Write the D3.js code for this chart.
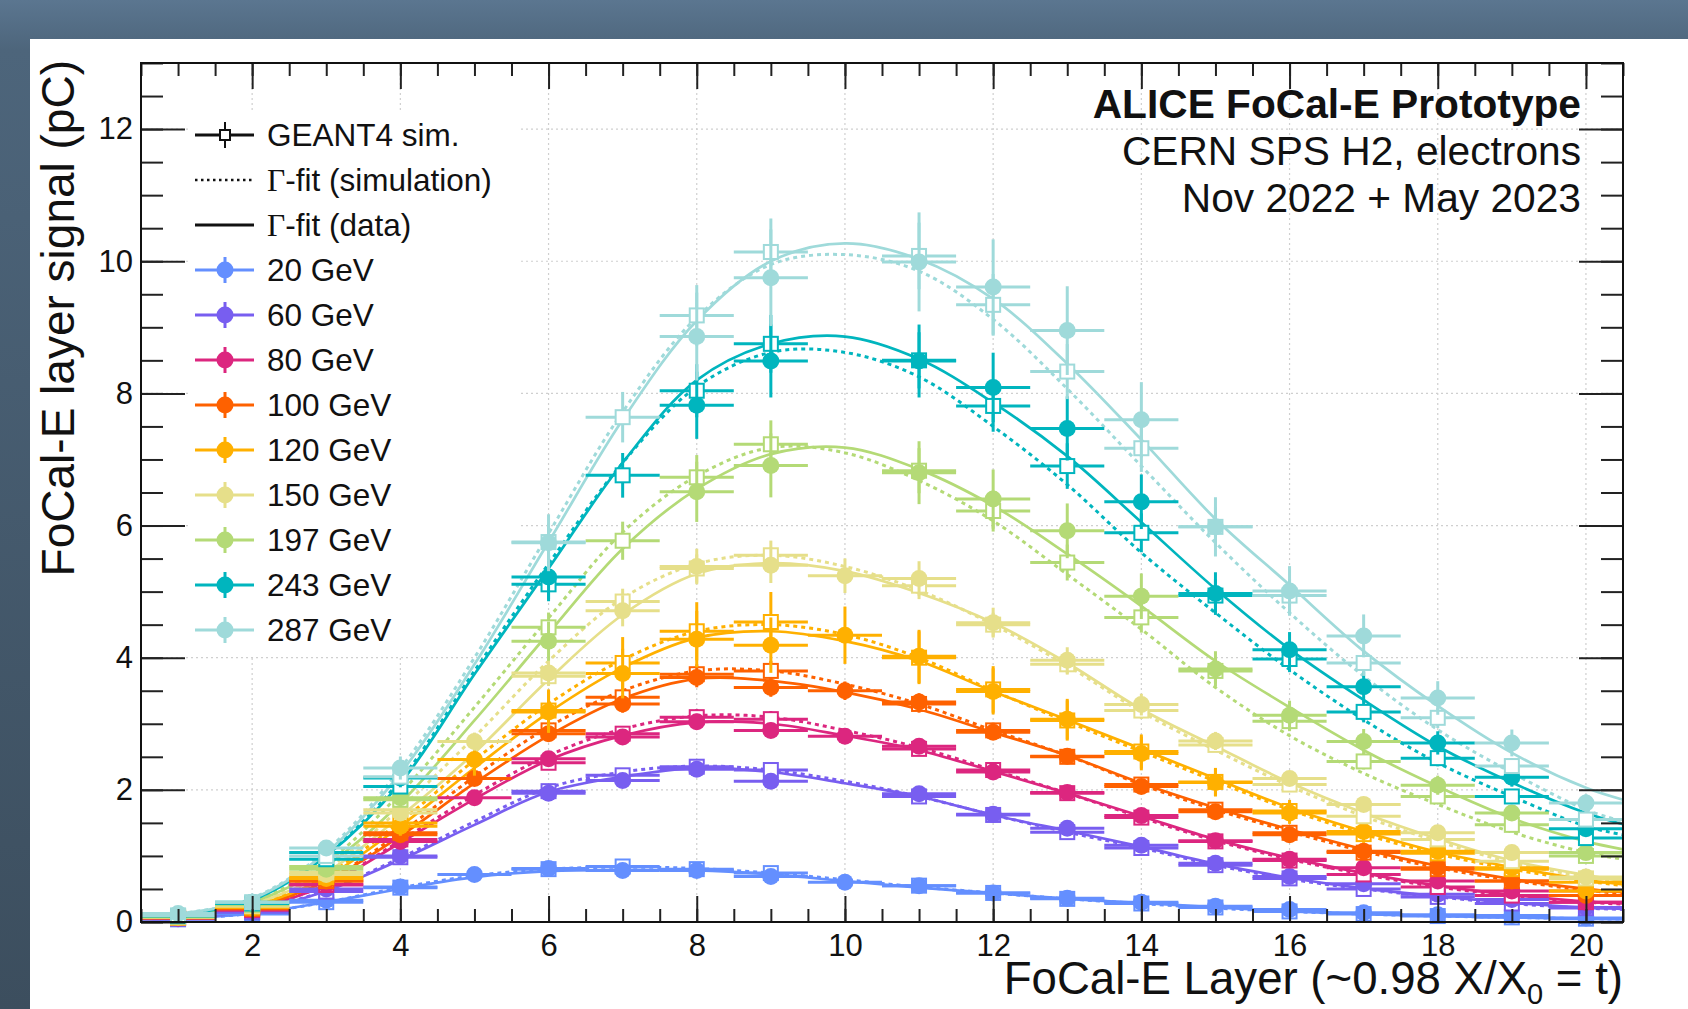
<!DOCTYPE html>
<html>
<head>
<meta charset="utf-8">
<script src="https://cdn.jsdelivr.net/npm/d3@7"></script>
<style>
	body { margin: 0; overflow: hidden; background: #4c6479; }
	svg { display: block; font-family: "Liberation Sans", Arial, sans-serif; }
</style>
</head>
<body>
<div id="chart"></div>
<script>
// values (pC per layer)
const layers = [1, 2, 3, 4, 5, 6, 7, 8, 9, 10, 11, 12, 13, 14, 15, 16, 17, 18, 19, 20];
const fitLayers = [0.5, 1, 2, 3, 4, 5, 6, 7, 8, 9, 10, 11, 12, 13, 14, 15, 16, 17, 18, 19, 20, 20.5];
const energies = ["20 GeV", "60 GeV", "80 GeV", "100 GeV", "120 GeV", "150 GeV", "197 GeV", "243 GeV", "287 GeV"];
const colors = ["#648fff", "#785ef0", "#dc267f", "#fe6100", "#ffb000", "#e6df8a", "#b4da76", "#00b5be", "#9fdada"];
const xTicks = [2, 4, 6, 8, 10, 12, 14, 16, 18, 20];
const yTicks = [0, 2, 4, 6, 8, 10, 12];

// measured points (null = layer not shown)
const data20 = [0.06, 0.14, 0.33, 0.53, 0.72, 0.81, 0.78, 0.78, 0.69, 0.60, 0.55, 0.44, 0.36, 0.30, 0.24, 0.19, 0.14, 0.11, 0.10, 0.06];
const data60 = [0.05, 0.15, 0.50, 1.00, null, 1.95, 2.14, 2.31, 2.13, null, 1.94, 1.63, 1.42, 1.16, 0.89, 0.69, 0.58, 0.42, 0.34, 0.22];
const data80 = [0.06, 0.18, 0.57, 1.22, 1.88, 2.47, 2.80, 3.03, 2.90, 2.81, 2.66, 2.27, 1.96, 1.61, 1.23, 0.95, 0.82, 0.62, 0.47, 0.30];
const data100 = [0.07, 0.20, 0.62, 1.32, 2.17, 2.85, 3.30, 3.70, 3.55, 3.50, 3.33, 2.87, 2.51, 2.05, 1.67, 1.32, 1.07, 0.82, 0.62, 0.40];
const data120 = [0.07, 0.22, 0.66, 1.45, 2.46, 3.18, 3.76, 4.28, 4.19, 4.34, 4.02, 3.49, 3.07, 2.55, 2.11, 1.65, 1.37, 1.07, 0.82, 0.47];
const data150 = [0.08, 0.25, 0.72, 1.65, 2.73, 3.77, 4.71, 5.38, 5.40, 5.24, 5.20, 4.53, 3.96, 3.29, 2.74, 2.17, 1.78, 1.35, 1.05, 0.68];
const data197 = [0.09, 0.27, 0.80, 1.88, null, 4.25, null, 6.51, 6.91, null, 6.80, 6.40, 5.92, 4.93, 3.83, 3.13, 2.73, 2.07, 1.65, 1.05];
const data243 = [0.10, 0.30, 1.05, 2.18, null, 5.22, null, 7.82, 8.49, null, 8.49, 8.09, 7.47, 6.36, 4.97, 4.12, 3.56, 2.71, 2.19, 1.41];
const data287 = [0.13, 0.30, 1.12, 2.33, null, 5.74, null, 8.86, 9.75, null, 9.99, 9.61, 8.95, 7.60, 5.98, 5.01, 4.33, 3.39, 2.71, 1.80];

// GEANT4 points
const sim20 = [0.04, 0.12, 0.30, 0.52, null, 0.80, 0.84, 0.80, 0.74, null, 0.55, 0.44, 0.35, 0.28, 0.22, 0.16, 0.12, 0.09, 0.07, 0.05];
const sim60 = [0.05, 0.15, 0.46, 0.98, null, 1.98, 2.22, 2.35, 2.30, null, 1.90, 1.62, 1.36, 1.12, 0.86, 0.66, 0.50, 0.38, 0.28, 0.21];
const sim80 = [0.06, 0.18, 0.56, 1.25, null, 2.41, 2.85, 3.10, 3.07, null, 2.62, 2.30, 1.95, 1.58, 1.22, 0.93, 0.72, 0.53, 0.40, 0.30];
const sim100 = [0.06, 0.20, 0.62, 1.35, null, 2.90, 3.40, 3.75, 3.80, null, 3.30, 2.90, 2.50, 2.08, 1.70, 1.35, 1.05, 0.80, 0.62, 0.47];
const sim120 = [0.07, 0.22, 0.68, 1.50, null, 3.20, 3.92, 4.40, 4.54, null, 4.00, 3.52, 3.05, 2.58, 2.12, 1.68, 1.33, 1.04, 0.80, 0.60];
const sim150 = [0.07, 0.24, 0.75, 1.70, null, 3.72, 4.85, 5.35, 5.55, null, 5.09, 4.50, 3.90, 3.20, 2.68, 2.08, 1.60, 1.25, 0.92, 0.66];
const sim197 = [0.08, 0.26, 0.84, 1.85, null, 4.46, 5.77, 6.73, 7.23, null, 6.83, 6.22, 5.44, 4.61, 3.80, 3.04, 2.43, 1.90, 1.47, 1.00];
const sim243 = [0.09, 0.28, 0.95, 2.05, null, 5.11, 6.76, 8.04, 8.75, null, 8.50, 7.81, 6.90, 5.89, 4.94, 3.98, 3.18, 2.48, 1.90, 1.27];
const sim287 = [0.10, 0.30, 1.00, 2.20, null, 5.75, 7.64, 9.18, 10.14, null, 10.08, 9.34, 8.33, 7.17, 5.98, 4.94, 3.92, 3.09, 2.36, 1.55];

// relative y uncertainties per energy
const relErrData = [0.04, 0.04, 0.04, 0.04, 0.10, 0.05, 0.07, 0.065, 0.075];
const relErrSim = [0.04, 0.04, 0.04, 0.04, 0.10, 0.04, 0.05, 0.05, 0.05];

// Gamma-fit curves, sampled at fitLayers
const fit20 = [0.03, 0.05, 0.13, 0.30, 0.50, 0.68, 0.77, 0.79, 0.78, 0.72, 0.62, 0.52, 0.44, 0.35, 0.29, 0.22, 0.16, 0.12, 0.09, 0.07, 0.05, 0.045];
const fit60 = [0.03, 0.06, 0.17, 0.47, 0.94, 1.47, 1.97, 2.20, 2.33, 2.27, 2.10, 1.90, 1.62, 1.38, 1.14, 0.88, 0.67, 0.51, 0.39, 0.29, 0.22, 0.20];
const fit80 = [0.03, 0.07, 0.20, 0.56, 1.20, 1.86, 2.45, 2.82, 3.02, 3.00, 2.82, 2.60, 2.28, 1.95, 1.60, 1.25, 0.97, 0.74, 0.55, 0.41, 0.31, 0.28];
const fit100 = [0.04, 0.08, 0.22, 0.62, 1.30, 2.10, 2.82, 3.38, 3.68, 3.65, 3.48, 3.22, 2.87, 2.52, 2.10, 1.73, 1.40, 1.10, 0.85, 0.65, 0.50, 0.45];
const fit120 = [0.04, 0.08, 0.24, 0.68, 1.45, 2.33, 3.17, 3.85, 4.30, 4.40, 4.25, 3.95, 3.49, 3.06, 2.62, 2.17, 1.73, 1.37, 1.06, 0.83, 0.64, 0.57];
const fit150 = [0.04, 0.09, 0.27, 0.75, 1.60, 2.56, 3.67, 4.65, 5.27, 5.43, 5.31, 4.98, 4.53, 3.92, 3.22, 2.66, 2.11, 1.65, 1.26, 0.93, 0.71, 0.62];
const fit197 = [0.05, 0.10, 0.30, 0.85, 1.80, 3.05, 4.37, 5.65, 6.55, 7.08, 7.18, 6.85, 6.30, 5.57, 4.78, 3.95, 3.25, 2.60, 2.05, 1.57, 1.22, 1.10];
const fit243 = [0.06, 0.11, 0.33, 1.00, 2.10, 3.75, 5.35, 6.95, 8.20, 8.75, 8.86, 8.52, 7.86, 7.05, 6.05, 5.04, 4.13, 3.36, 2.66, 2.11, 1.65, 1.48];
const fit287 = [0.06, 0.12, 0.35, 1.05, 2.25, 3.90, 5.75, 7.60, 9.10, 10.00, 10.27, 10.03, 9.43, 8.45, 7.30, 6.10, 5.10, 4.10, 3.27, 2.56, 2.03, 1.85];

const fitSim20 = [0.03, 0.05, 0.13, 0.30, 0.52, 0.70, 0.80, 0.83, 0.81, 0.74, 0.64, 0.53, 0.44, 0.35, 0.28, 0.21, 0.16, 0.12, 0.09, 0.07, 0.05, 0.045];
const fitSim60 = [0.03, 0.06, 0.17, 0.48, 0.97, 1.52, 2.03, 2.27, 2.36, 2.30, 2.13, 1.90, 1.62, 1.36, 1.12, 0.86, 0.65, 0.50, 0.38, 0.28, 0.21, 0.19];
const fitSim80 = [0.03, 0.07, 0.20, 0.57, 1.23, 1.92, 2.52, 2.92, 3.12, 3.10, 2.90, 2.64, 2.30, 1.95, 1.58, 1.23, 0.95, 0.72, 0.53, 0.40, 0.30, 0.27];
const fitSim100 = [0.04, 0.08, 0.22, 0.63, 1.35, 2.20, 2.95, 3.50, 3.80, 3.80, 3.60, 3.30, 2.90, 2.52, 2.08, 1.70, 1.37, 1.07, 0.82, 0.63, 0.48, 0.43];
const fitSim120 = [0.04, 0.08, 0.25, 0.72, 1.52, 2.45, 3.30, 3.97, 4.40, 4.50, 4.35, 4.00, 3.50, 3.03, 2.58, 2.13, 1.70, 1.33, 1.03, 0.80, 0.62, 0.55];
const fitSim150 = [0.04, 0.09, 0.28, 0.80, 1.72, 2.80, 3.95, 4.90, 5.42, 5.55, 5.38, 5.02, 4.50, 3.88, 3.18, 2.60, 2.06, 1.60, 1.22, 0.90, 0.68, 0.60];
const fitSim197 = [0.05, 0.10, 0.31, 0.90, 1.95, 3.25, 4.60, 5.90, 6.75, 7.18, 7.10, 6.68, 6.07, 5.26, 4.43, 3.55, 2.82, 2.25, 1.78, 1.36, 1.05, 0.95];
const fitSim243 = [0.06, 0.11, 0.34, 1.02, 2.15, 3.80, 5.42, 6.95, 8.10, 8.62, 8.62, 8.25, 7.50, 6.62, 5.59, 4.68, 3.82, 3.06, 2.41, 1.90, 1.45, 1.32];
const fitSim287 = [0.06, 0.12, 0.36, 1.08, 2.32, 4.00, 5.88, 7.72, 9.15, 9.95, 10.10, 9.85, 9.12, 8.07, 6.90, 5.74, 4.68, 3.72, 2.91, 2.26, 1.70, 1.52];

const dataSets = [data20, data60, data80, data100, data120, data150, data197, data243, data287];
const simSets = [sim20, sim60, sim80, sim100, sim120, sim150, sim197, sim243, sim287];
const fitSets = [fit20, fit60, fit80, fit100, fit120, fit150, fit197, fit243, fit287];
const fitSimSets = [fitSim20, fitSim60, fitSim80, fitSim100, fitSim120, fitSim150, fitSim197, fitSim243, fitSim287];

class LayerPlot {
	constructor(selector) {
		this.width = 1688
		this.height = 1009
		this.left = 141
		this.right = 1623
		this.top = 63
		this.bottom = 922
		this.xScale = d3.scaleLinear().domain([0.5, 20.5]).range([this.left, this.right])
		this.yScale = d3.scaleLinear().domain([0, 13]).range([this.bottom, this.top])
		this.svg = d3.select(selector).append("svg")
			.attr("width", this.width)
			.attr("height", this.height);
	}

	drawBackground() {
		let grad = this.svg.append("defs").append("linearGradient")
			.attr("id", "slide").attr("x1", 0).attr("y1", 0).attr("x2", 0).attr("y2", 1);
		grad.append("stop").attr("offset", "0%").attr("stop-color", "#5b7690");
		grad.append("stop").attr("offset", "5%").attr("stop-color", "#4d657b");
		grad.append("stop").attr("offset", "100%").attr("stop-color", "#3c4e5e");
		this.svg.append("rect").attr("width", this.width).attr("height", this.height).attr("fill", "url(#slide)");
		this.svg.append("rect")
			.attr("x", 30).attr("y", 39)
			.attr("width", this.width - 30).attr("height", this.height - 39)
			.attr("fill", "white");
	}

	drawGrid() {
		let g = this.svg.append("g")
			.attr("stroke", "#cfcfcf")
			.attr("stroke-width", 1.2)
			.attr("stroke-dasharray", "2,3");
		g.selectAll("line.v").data(xTicks).join("line")
			.attr("x1", d => this.xScale(d)).attr("x2", d => this.xScale(d))
			.attr("y1", this.top).attr("y2", this.bottom);
		g.selectAll("line.h").data(yTicks.filter(d => d > 0)).join("line")
			.attr("y1", d => this.yScale(d)).attr("y2", d => this.yScale(d))
			.attr("x1", this.left).attr("x2", this.right);
		// legend box hides the grid but sits below the curves
		this.svg.append("rect")
			.attr("x", 190).attr("y", 110)
			.attr("width", 328).attr("height", 546)
			.attr("fill", "white");
	}

	drawCurves() {
		let line = d3.line()
			.x(d => this.xScale(d[0]))
			.y(d => this.yScale(d[1]))
			.curve(d3.curveCatmullRom.alpha(0.5));
		let g = this.svg.append("g").attr("fill", "none");
		energies.forEach((e, i) => {
			// simulation fit dotted, data fit solid
			g.append("path")
				.attr("d", line(fitLayers.map((t, k) => [t, fitSimSets[i][k]])))
				.attr("stroke", colors[i])
				.attr("stroke-width", 3)
				.attr("stroke-dasharray", "4,4");
			g.append("path")
				.attr("d", line(fitLayers.map((t, k) => [t, fitSets[i][k]])))
				.attr("stroke", colors[i])
				.attr("stroke-width", 2.7);
		});
	}

	drawPoints(values, relErr, color, kind) {
		let pts = layers.map((t, k) => ({t: t, v: values[k]})).filter(d => d.v !== null);
		let g = this.svg.append("g").attr("stroke", color).attr("stroke-width", 3);
		g.selectAll("line.ex").data(pts).join("line")
			.attr("x1", d => this.xScale(d.t - 0.5)).attr("x2", d => this.xScale(d.t + 0.5))
			.attr("y1", d => this.yScale(d.v)).attr("y2", d => this.yScale(d.v));
		g.selectAll("line.ey").data(pts).join("line")
			.attr("x1", d => this.xScale(d.t)).attr("x2", d => this.xScale(d.t))
			.attr("y1", d => this.yScale(d.v * (1 - relErr))).attr("y2", d => this.yScale(d.v * (1 + relErr)));
		if (kind == "sim") {
			g.selectAll("rect").data(pts).join("rect")
				.attr("x", d => this.xScale(d.t) - 7).attr("y", d => this.yScale(d.v) - 7)
				.attr("width", 14).attr("height", 14)
				.attr("fill", "white").attr("stroke-width", 2);
		} else {
			g.selectAll("circle").data(pts).join("circle")
				.attr("cx", d => this.xScale(d.t)).attr("cy", d => this.yScale(d.v))
				.attr("r", 8.5).attr("fill", color).attr("stroke", "none");
		}
	}

	drawAxes() {
		let fmt = d3.format("d");
		let fontFamily = "'Liberation Sans', Arial, sans-serif";
		let halfX = d3.range(0.5, 20.51, 0.5);
		let halfY = d3.range(0, 13.01, 0.5);
		let place = (axis, x, y) => {
			let g = this.svg.append("g").attr("transform", `translate(${x},${y})`).call(axis);
			g.select(".domain").remove();
			g.selectAll(".tick line").attr("stroke", "#222").attr("stroke-width", 2);
			g.attr("font-family", fontFamily).attr("font-size", 31);
			g.selectAll(".tick text").attr("fill", "#111");
			return g;
		};
		// minor ticks
		place(d3.axisBottom(this.xScale).tickValues(halfX).tickSize(-13).tickFormat(""), 0, this.bottom);
		place(d3.axisTop(this.xScale).tickValues(halfX).tickSize(-13).tickFormat(""), 0, this.top);
		place(d3.axisLeft(this.yScale).tickValues(halfY).tickSize(-22).tickFormat(""), this.left, 0);
		place(d3.axisRight(this.yScale).tickValues(halfY).tickSize(-22).tickFormat(""), this.right, 0);
		// major ticks
		place(d3.axisBottom(this.xScale).tickValues(xTicks).tickSize(-26).tickPadding(12).tickFormat(fmt), 0, this.bottom)
			.selectAll(".tick text").attr("dy", "0.71em");
		place(d3.axisTop(this.xScale).tickValues(xTicks).tickSize(-26).tickFormat(""), 0, this.top);
		place(d3.axisLeft(this.yScale).tickValues(yTicks).tickSize(-44).tickPadding(8).tickFormat(fmt), this.left, 0);
		place(d3.axisRight(this.yScale).tickValues(yTicks).tickSize(-44).tickFormat(""), this.right, 0);

		this.svg.append("rect")
			.attr("x", this.left).attr("y", this.top)
			.attr("width", this.right - this.left).attr("height", this.bottom - this.top)
			.attr("fill", "none").attr("stroke", "#111").attr("stroke-width", 2);

		// axis titles
		let xt = this.svg.append("text")
			.attr("x", this.right).attr("y", 994)
			.attr("text-anchor", "end")
			.attr("font-size", 45.6)
			.attr("fill", "#111");
		xt.append("tspan").text("FoCal-E Layer (~0.98 X/X");
		xt.append("tspan").text("0").attr("font-size", 29).attr("dy", 10);
		xt.append("tspan").text(" = t)").attr("dy", -10);

		this.svg.append("text")
			.attr("transform", `translate(74,${this.top - 3}) rotate(-90)`)
			.attr("text-anchor", "end")
			.attr("font-size", 46)
			.attr("fill", "#111")
			.text("FoCal-E layer signal (pC)");
	}

	drawLegend() {
		let rows = [
			{label: "GEANT4 sim.", kind: "sim", color: "#111"},
			{label: "-fit (simulation)", kind: "dotted", color: "#111", gamma: true},
			{label: "-fit (data)", kind: "solid", color: "#111", gamma: true}
		].concat(energies.map((e, i) => ({label: e, kind: "energy", color: colors[i]})));

		let g = this.svg.append("g");
		let row = g.selectAll("g.row").data(rows).join("g")
			.attr("transform", (d, i) => `translate(0,${135 + i * 45})`);

		row.append("line")
			.attr("x1", 195).attr("x2", 254)
			.attr("stroke", d => d.color)
			.attr("stroke-width", d => d.kind == "dotted" ? 2.5 : 3)
			.attr("stroke-dasharray", d => d.kind == "dotted" ? "2.5,3.5" : null);
		row.filter(d => d.kind == "sim" || d.kind == "energy").append("line")
			.attr("x1", 225).attr("x2", 225)
			.attr("y1", -13).attr("y2", 13)
			.attr("stroke", d => d.color)
			.attr("stroke-width", d => d.kind == "sim" ? 2 : 3);
		row.filter(d => d.kind == "sim").append("rect")
			.attr("x", 220).attr("y", -5)
			.attr("width", 10).attr("height", 10)
			.attr("fill", "white").attr("stroke", "#111").attr("stroke-width", 2);
		row.filter(d => d.kind == "energy").append("circle")
			.attr("cx", 225).attr("r", 8.5)
			.attr("fill", d => d.color);

		let txt = row.append("text")
			.attr("x", 267).attr("y", 11)
			.attr("font-size", 31.5)
			.attr("fill", "#111");
		txt.filter(d => d.gamma).append("tspan")
			.attr("font-family", "'Liberation Serif', 'DejaVu Serif', serif")
			.text("\u0393");
		txt.append("tspan").text(d => d.label);
	}

	drawLabels() {
		let lines = [
			{text: "ALICE FoCal-E Prototype", y: 118, weight: "bold"},
			{text: "CERN SPS H2, electrons", y: 165, weight: "normal"},
			{text: "Nov 2022 + May 2023", y: 212, weight: "normal"}
		];
		this.svg.append("g").selectAll("text").data(lines).join("text")
			.attr("x", 1581)
			.attr("y", d => d.y)
			.attr("text-anchor", "end")
			.attr("font-size", 40.7)
			.attr("font-weight", d => d.weight)
			.attr("fill", "#111")
			.text(d => d.text);
	}

	draw() {
		this.drawBackground();
		this.drawGrid();
		this.drawCurves();
		energies.forEach((e, i) => {
			this.drawPoints(simSets[i], relErrSim[i], colors[i], "sim");
			this.drawPoints(dataSets[i], relErrData[i], colors[i], "data");
		});
		this.drawAxes();
		this.drawLabels();
		this.drawLegend();
	}
}

let plot = new LayerPlot("#chart");
plot.draw();
</script>
</body>
</html>
